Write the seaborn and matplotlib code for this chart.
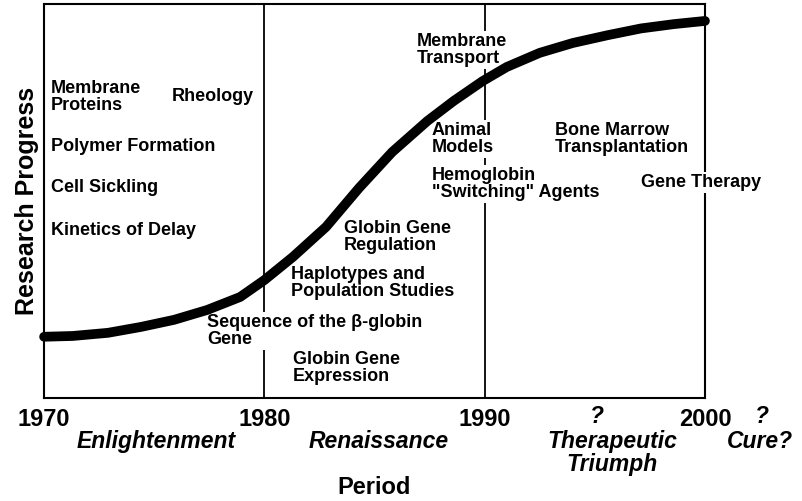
import pandas as pd
import matplotlib.pyplot as plt
import seaborn as sns

# curve (year, progress 0-100)
years = [1970.0, 1971.3, 1972.9, 1974.4, 1975.9, 1977.4, 1978.9, 1980.0,
         1981.3, 1982.8, 1984.3, 1985.8, 1987.4, 1988.6, 1989.9, 1991.0,
         1992.5, 1994.0, 1995.6, 1997.1, 1998.6, 2000.0]
progress = [15.5, 15.7, 16.5, 18.0, 19.8, 22.3, 25.6, 29.9,
            35.8, 43.4, 53.3, 62.4, 70.3, 75.4, 80.4, 84.0,
            87.6, 90.1, 92.1, 93.8, 94.9, 95.7]

tick_years = [1970, 1980, 1990, 2000]
era_names = ['Enlightenment', 'Renaissance', 'Therapeutic\nTriumph', 'Cure?']
era_x = [1975.1, 1985.2, 1995.8, 2002.5]
era_y = [-0.112, -0.112, -0.14, -0.112]
question_x = [1995.1, 2002.6]

topics = ['Membrane\nProteins', 'Rheology', 'Polymer Formation', 'Cell Sickling',
          'Kinetics of Delay', 'Membrane\nTransport', 'Animal\nModels',
          'Hemoglobin\n"Switching" Agents', 'Bone Marrow\nTransplantation',
          'Gene Therapy', 'Globin Gene\nRegulation',
          'Haplotypes and\nPopulation Studies',
          'Sequence of the \u03b2-globin\nGene', 'Globin Gene\nExpression']
topic_x = [1970.3, 1975.8, 1970.3, 1970.3, 1970.3, 1986.9, 1987.6, 1987.6,
           1993.2, 1997.1, 1983.6, 1981.2, 1977.4, 1981.3]
topic_y = [76.4, 76.4, 63.9, 53.3, 42.4, 88.3, 65.7, 54.3, 65.7, 54.6,
           40.9, 29.2, 16.9, 7.6]

df = pd.DataFrame({'Year': years, 'Progress': progress})

sns.set_style('white')
plt.rcParams['font.family'] = ['Liberation Sans', 'DejaVu Sans']
plt.rcParams['text.color'] = 'black'
plt.rcParams['axes.labelcolor'] = 'black'
plt.rcParams['xtick.color'] = 'black'

fig = plt.figure(figsize=(8.02, 5.01), dpi=100)
ax = fig.add_axes([0.055, 0.206, 0.824, 0.786])

for yr in [1980, 1990]:
    ax.axvline(yr, color='black', lw=1.3, zorder=1)

sns.lineplot(data=df, x='Year', y='Progress', color='black', lw=7,
             ax=ax, zorder=5, clip_on=False, solid_capstyle='round',
             solid_joinstyle='round')

for s in ax.spines.values():
    s.set_color('black')
    s.set_linewidth(1.5)
    s.set_visible(True)

ax.set_xlim(1970, 2000)
ax.set_ylim(0, 100)
ax.set_xticks(tick_years)
ax.set_xticklabels([str(y) for y in tick_years], fontsize=17, fontweight='bold')
ax.set_yticks([])
ax.tick_params(axis='x', length=0, pad=7)
ax.set_xlabel('Period', fontsize=17, fontweight='bold', labelpad=33)
ax.set_ylabel('Research Progress', fontsize=18, fontweight='bold', labelpad=4)

for t, x, y in zip(topics, topic_x, topic_y):
    ax.text(x, y, t, fontsize=13, fontweight='bold', ha='left', va='center',
            zorder=3, linespacing=1.0,
            bbox=dict(facecolor='white', edgecolor='none', pad=1.5))

tr = ax.get_xaxis_transform()
for n, x, y in zip(era_names, era_x, era_y):
    ax.text(x, y, n, transform=tr, fontsize=16.5, fontweight='bold',
            fontstyle='italic', ha='center', va='center', linespacing=1.0,
            clip_on=False)
for x in question_x:
    ax.text(x, -0.048, '?', transform=tr, fontsize=16.5, fontweight='bold',
            fontstyle='italic', ha='center', va='center', clip_on=False)

plt.savefig('out.png', dpi=100)
